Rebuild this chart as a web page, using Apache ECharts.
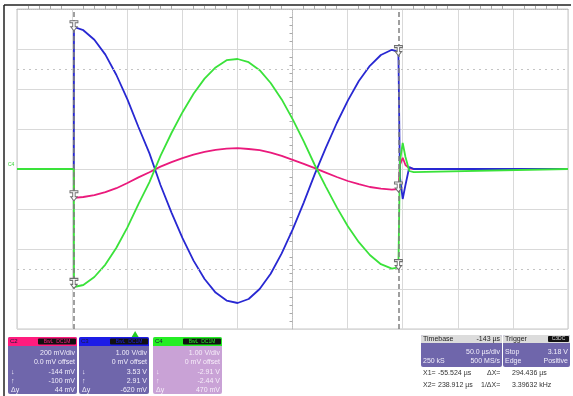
<!DOCTYPE html>
<html>
<head>
<meta charset="utf-8">
<script src="https://cdn.jsdelivr.net/npm/echarts@6/dist/echarts.min.js"></script>
<style>
  html, body { margin: 0; padding: 0; background: #fff; }
  #main { width: 573px; height: 396px; }
</style>
</head>
<body>
<div id="main"></div>
<script>
// scope time, µs (screen spans -107.2 .. 392.8, trigger at 0)
const time = [-107.2, -55.6, -55.5, -47, -37, -27, -17, -7, 3, 13, 23, 33, 43, 53, 63, 73, 83, 93,
  103, 113, 123, 133, 143, 153, 163, 173, 183, 193, 203, 213, 223, 233, 238.9,
  240.3, 242.8, 245.3, 248.8, 252.8, 392.8];

// C2 in mV (200 mV/div)
const c2mV = [0, 0, -144, -140, -131, -116, -96, -70, -42, -16, 12, 34, 54, 72, 86, 96, 102, 104,
  100, 94, 82, 66, 46, 26, 4, -18, -40, -60, -76, -90, -98, -103, -100,
  20, 56, 20, 4, 0, 0];

// C3 in V (1 V/div)
const c3V = [0, 0, 3.55, 3.47, 3.23, 2.86, 2.35, 1.74, 1.05, 0.39, -0.40, -1.09, -1.73, -2.29, -2.75, -3.09, -3.29, -3.35,
  -3.25, -3.0, -2.62, -2.11, -1.51, -0.84, -0.13, 0.53, 1.15, 1.71, 2.2, 2.58, 2.85, 2.98, 2.93,
  -0.2, -0.75, -0.4, 0.05, 0, 0];

// C4 in V (1 V/div)
const c4V = [0, 0, -2.95, -2.9, -2.7, -2.39, -1.97, -1.46, -0.88, -0.33, 0.33, 0.9, 1.42, 1.88, 2.26, 2.54, 2.72, 2.75,
  2.67, 2.47, 2.15, 1.74, 1.24, 0.69, 0.1, -0.44, -0.96, -1.43, -1.83, -2.15, -2.38, -2.49, -2.46,
  0.2, 0.65, 0.3, -0.05, -0.08, 0];

const voltsPerDiv = { c2: 200, c3: 1, c4: 1 };

// cursor readouts
const cursorX = [-55.524, 238.912];
const c2Cursor = [-144, -100];
const c3Cursor = [3.53, 2.91];
const c4Cursor = [-2.91, -2.44];
const triggerTime = 0;

const colors = { c2: '#ea1a7c', c3: '#2828d2', c4: '#3ae23a' };

const chart = echarts.init(document.getElementById('main'));

const toDiv = (arr, k) => time.map((t, i) => [t, arr[i] / voltsPerDiv[k]]);

const markerPath = 'path://M0,0 H10 V2 H6.5 V6 H9 L5,10 L1,6 H3.5 V2 H0 Z';
const markers = [];
cursorX.forEach((x, i) => {
  markers.push({ coord: [x, c2Cursor[i] / voltsPerDiv.c2] });
  markers.push({ coord: [x, c3Cursor[i] / voltsPerDiv.c3] });
  markers.push({ coord: [x, c4Cursor[i] / voltsPerDiv.c4] });
});

const FONT = 'Liberation Sans, Arial, sans-serif';
const gfx = [];
function rect(x, y, w, h, fill, r) {
  gfx.push({ type: 'rect', shape: { x, y, width: w, height: h, r: r || 0 }, style: { fill }, silent: true });
}
function text(x, y, str, fill, align, size) {
  gfx.push({
    type: 'text', x, y, silent: true,
    style: { text: str, fill, font: (size || 7) + 'px ' + FONT, textAlign: align || 'left', textVerticalAlign: 'middle', verticalAlign: 'middle' }
  });
}

// frame
gfx.push({ type: 'line', shape: { x1: 4, y1: 5, x2: 571, y2: 5 }, style: { stroke: '#222', lineWidth: 1.5 }, silent: true });
gfx.push({ type: 'line', shape: { x1: 4, y1: 5, x2: 4, y2: 396 }, style: { stroke: '#222', lineWidth: 1.5 }, silent: true });

// channel panels
const panels = [
  { name: 'C2', x: 8, w: 69, head: '#ff1c7e', body: '#6f66ab', ink: '#f1eefb', unit: 'mV',
    scale: '200 mV/div', offset: '0.0 mV offset', vals: c2Cursor },
  { name: 'C3', x: 79, w: 70, head: '#1c1ce6', body: '#6f66ab', ink: '#f1eefb', unit: 'V',
    scale: '1.00 V/div', offset: '0 mV offset', vals: c3Cursor },
  { name: 'C4', x: 153, w: 69, head: '#24ee24', body: '#c9a2d6', ink: '#f7eefa', unit: 'V',
    scale: '1.00 V/div', offset: '0 mV offset', vals: c4Cursor }
];
panels.forEach(p => {
  rect(p.x, 337, p.w, 57, p.body, 2);
  rect(p.x, 337, p.w, 9, p.head, [2, 2, 0, 0]);
  text(p.x + 2, 341.5, p.name, '#1a1a3a', 'left', 6);
  rect(p.x + p.w - 39, 338.5, 38, 6, '#111', 1);
  text(p.x + p.w - 20, 341.5, 'BwL  DC1M', p.head, 'center', 5);
  const r = p.x + p.w - 2;
  text(r, 353, p.scale, p.ink, 'right');
  text(r, 362, p.offset, p.ink, 'right');
  let v1, v2, dy;
  if (p.unit === 'mV') {
    v1 = p.vals[0] + ' mV'; v2 = p.vals[1] + ' mV'; dy = (p.vals[1] - p.vals[0]) + ' mV';
  } else {
    v1 = p.vals[0].toFixed(2) + ' V'; v2 = p.vals[1].toFixed(2) + ' V';
    dy = Math.round((p.vals[1] - p.vals[0]) * 1000) + ' mV';
  }
  text(r, 372, v1, p.ink, 'right');
  text(r, 381, v2, p.ink, 'right');
  text(r, 390.5, dy, p.ink, 'right');
  text(p.x + 3, 372, '↓', p.ink, 'left');
  text(p.x + 3, 381, '↑', p.ink, 'left');
  text(p.x + 3, 390.5, 'Δy', p.ink, 'left');
});

// timebase / trigger
rect(421, 335, 81, 32, '#6f66ab', 2);
rect(421, 335, 81, 8, '#dcdcdc', [2, 2, 0, 0]);
text(423, 339, 'Timebase', '#222', 'left');
text(500, 339, '-143 µs', '#222', 'right');
text(500, 352, '50.0 µs/div', '#f1eefb', 'right');
text(423, 361.5, '250 kS', '#f1eefb', 'left');
text(500, 361.5, '500 MS/s', '#f1eefb', 'right');

rect(503, 335, 67, 32, '#6f66ab', 2);
rect(503, 335, 67, 8, '#dcdcdc', [2, 2, 0, 0]);
text(505, 339, 'Trigger', '#222', 'left');
rect(548, 336, 21, 6, '#111', 1);
text(558.5, 339, 'C3DC', '#ddd', 'center', 5);
text(505, 352, 'Stop', '#f1eefb', 'left');
text(568, 352, '3.18 V', '#f1eefb', 'right');
text(505, 361.5, 'Edge', '#f1eefb', 'left');
text(568, 361.5, 'Positive', '#f1eefb', 'right');

const dX = cursorX[1] - cursorX[0];
text(423, 373, 'X1=', '#333', 'left');
text(438, 373, cursorX[0].toFixed(3) + ' µs', '#333', 'left');
text(487, 373, 'ΔX=', '#333', 'left');
text(512, 373, dX.toFixed(3) + ' µs', '#333', 'left');
text(423, 385.5, 'X2=', '#333', 'left');
text(438, 385.5, cursorX[1].toFixed(3) + ' µs', '#333', 'left');
text(481, 385.5, '1/ΔX=', '#333', 'left');
text(512, 385.5, (1000 / dX).toFixed(5) + ' kHz', '#333', 'left');

// ground marker
text(8, 165, 'C4', '#36d236', 'left', 5);

const trace = (name, data, color, z) => ({
  name, type: 'line', xAxisIndex: 0, data, showSymbol: false, animation: false, z,
  lineStyle: { color, width: 1.8 }, itemStyle: { color }
});

chart.setOption({
  animation: false,
  grid: { left: 17, top: 9, width: 551, height: 320, show: true, borderColor: '#c6c6c6', borderWidth: 1, backgroundColor: '#fff' },
  xAxis: [
    { type: 'value', min: -107.2, max: 392.8, show: false },
    {
      type: 'value', min: -250, max: 250, interval: 50,
      axisLabel: { show: false },
      splitLine: { show: true, lineStyle: { color: '#d9d9d9', width: 1 } },
      axisLine: { show: true, onZero: true, lineStyle: { color: '#bbb', type: 'dotted' } },
      axisTick: { show: false },
      minorTick: { show: true, splitNumber: 5, length: 3, lineStyle: { color: '#aaa' } }
    }
  ],
  yAxis: {
    type: 'value', min: -4, max: 4, interval: 1,
    axisLabel: { show: false },
    splitLine: { show: true, lineStyle: { color: '#d9d9d9', width: 1 } },
    axisLine: { show: true, onZero: true, onZeroAxisIndex: 1, lineStyle: { color: '#bbb', type: 'dotted' } },
    axisTick: { show: false },
    minorTick: { show: true, splitNumber: 5, length: 3, lineStyle: { color: '#aaa' } }
  },
  series: [
    trace('C2', toDiv(c2mV, 'c2'), colors.c2, 2),
    trace('C3', toDiv(c3V, 'c3'), colors.c3, 3),
    trace('C4', toDiv(c4V, 'c4'), colors.c4, 4),
    {
      name: 'cursors', type: 'line', xAxisIndex: 0, data: [], z: 6,
      markLine: {
        silent: true, symbol: 'none', animation: false, label: { show: false },
        data: [
          { yAxis: 2.5, lineStyle: { color: '#c4c4c4', type: [2, 4], width: 1 } },
          { yAxis: -2.5, lineStyle: { color: '#c4c4c4', type: [2, 4], width: 1 } },
          { xAxis: cursorX[0], lineStyle: { color: '#808080', type: [5, 3], width: 1.5 } },
          { xAxis: cursorX[1], lineStyle: { color: '#808080', type: [5, 3], width: 1.5 } }
        ]
      },
      markPoint: {
        silent: true, animation: false, symbol: markerPath, symbolSize: [8, 10], symbolOffset: [0, -2],
        label: { show: false },
        itemStyle: { color: '#fff', borderColor: '#6e6e6e', borderWidth: 1 },
        data: markers
      }
    }
  ],
  graphic: gfx
});

// trigger position marker below the grid
const tx = chart.convertToPixel({ xAxisIndex: 0 }, triggerTime);
gfx.push({ type: 'polygon', shape: { points: [[tx - 3.5, 337], [tx + 3.5, 337], [tx, 331]] }, style: { fill: '#22cc22' }, silent: true });
chart.setOption({ graphic: gfx });
</script>
</body>
</html>
